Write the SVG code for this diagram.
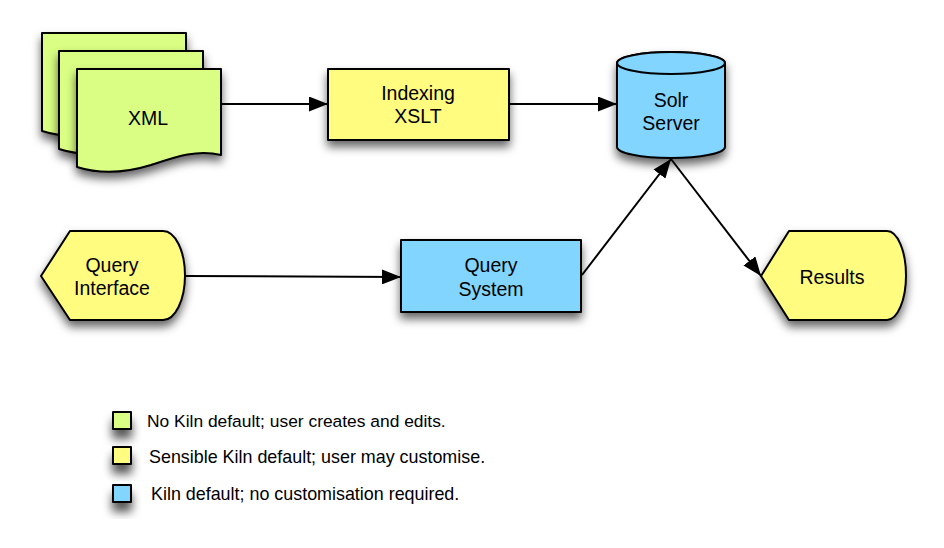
<svg xmlns="http://www.w3.org/2000/svg" width="944" height="548" viewBox="0 0 944 548">
<style>
.shape{stroke:#000;stroke-width:2;stroke-linejoin:round}
.green{fill:#d9fe83}
.yellow{fill:#fffc80}
.blue{fill:#82d5ff}
.lbl{font-family:"Liberation Sans",Arial,Helvetica,sans-serif;font-size:19.5px;fill:#000;text-anchor:middle}
.leg{font-family:"Liberation Sans",Arial,Helvetica,sans-serif;font-size:17.4px;fill:#000}
.conn{stroke:#000;stroke-width:2;fill:none;marker-end:url(#arrow)}
</style>
<defs>
<filter id="sh" x="-30%" y="-30%" width="160%" height="170%">
<feDropShadow dx="0" dy="6" stdDeviation="5" flood-color="#000" flood-opacity="0.6"/>
</filter>
<filter id="shl" x="-60%" y="-60%" width="220%" height="260%">
<feDropShadow dx="0" dy="9" stdDeviation="5" flood-color="#000" flood-opacity="0.65"/>
</filter>
<marker id="arrow" markerUnits="userSpaceOnUse" markerWidth="19" markerHeight="15" refX="19" refY="7.5" orient="auto">
<path d="M0,0 L19,7.5 L0,15 Z" fill="#000"/>
</marker>
<path id="doc" d="M0,0 H144 V86 C120,80 98,88 74,96 C48,104 22,105 0,98 Z"/>
</defs>

<g id="connectors">
<line class="conn" x1="221" y1="104" x2="328" y2="104"/>
<line class="conn" x1="509" y1="104" x2="617" y2="104"/>
<line class="conn" x1="185" y1="276" x2="401" y2="277"/>
<line class="conn" x1="582" y1="275" x2="671" y2="159"/>
<line class="conn" x1="671" y1="159" x2="761" y2="276"/>
</g>

<g id="xml">
<use href="#doc" x="42" y="33" class="shape green" filter="url(#sh)"/>
<use href="#doc" x="59" y="51" class="shape green" filter="url(#sh)"/>
<use href="#doc" x="77" y="69" class="shape green" filter="url(#sh)"/>
<text class="lbl" x="148" y="125">XML</text>
</g>

<g id="indexing-xslt">
<rect class="shape yellow" x="328" y="69" width="181" height="71" filter="url(#sh)"/>
<text class="lbl" x="418" y="100">Indexing</text>
<text class="lbl" x="418" y="123">XSLT</text>
</g>

<g id="solr-server">
<path class="shape blue" d="M617,63 V147 A54,11 0 0 0 725,147 V63 A54,11 0 0 0 617,63 Z" filter="url(#sh)"/>
<ellipse class="shape blue" cx="671" cy="63" rx="54" ry="11"/>
<text class="lbl" x="671" y="107">Solr</text>
<text class="lbl" x="671" y="130">Server</text>
</g>

<g id="query-interface">
<path class="shape yellow" d="M41,276 L70,231 H163 A22,44.5 0 0 1 163,320 H70 Z" filter="url(#sh)"/>
<text class="lbl" x="112" y="272">Query</text>
<text class="lbl" x="112" y="295">Interface</text>
</g>

<g id="query-system">
<rect class="shape blue" x="401" y="240" width="180" height="72" filter="url(#sh)"/>
<text class="lbl" x="491" y="272">Query</text>
<text class="lbl" x="491" y="296">System</text>
</g>

<g id="results">
<path class="shape yellow" d="M761,276 L789,231 H887 A19,44.5 0 0 1 887,320 H789 Z" filter="url(#sh)"/>
<text class="lbl" x="832" y="284">Results</text>
</g>

<g id="legend">
<rect class="shape green" x="113" y="412" width="18" height="17" filter="url(#shl)"/>
<text class="leg" x="147" y="427">No Kiln default; user creates and edits.</text>
<rect class="shape yellow" x="113" y="447" width="18" height="17" filter="url(#shl)"/>
<text class="leg" x="149" y="463" style="font-size:17.9px">Sensible Kiln default; user may customise.</text>
<rect class="shape blue" x="113" y="485" width="18" height="17" filter="url(#shl)"/>
<text class="leg" x="151" y="500" style="font-size:17.9px">Kiln default; no customisation required.</text>
</g>
</svg>
